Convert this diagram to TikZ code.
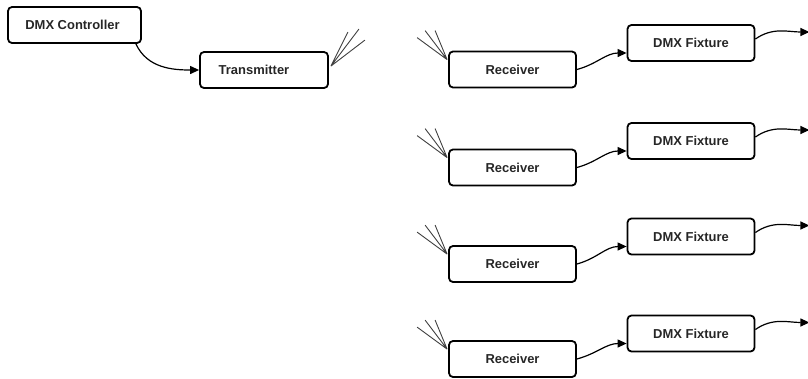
\documentclass[tikz,border=0pt]{standalone}
\usepackage{fontspec}
\setmainfont{Liberation Sans}
\usetikzlibrary{calc,arrows.meta}
\tikzset{
  box/.style={draw=black, line width=1.8pt, rounded corners=4bp, fill=white,
    minimum height=36bp, inner sep=0pt, font=\bfseries\fontsize{13}{15}\selectfont, text=black!85},
  conn/.style={line width=1.2pt, -{Triangle[length=9bp,width=8bp]}},
  ant/.style={line width=0.9pt, black!75}
}
\begin{document}
\begin{tikzpicture}[x=1bp,y=-1bp]
\useasboundingbox (0,0) rectangle (808,378);
\node[box, minimum width=133bp] (ctrl) at (74.5,25) {DMX Controller\kern4bp\relax};
\node[box, minimum width=128bp] (tx) at (264,70) {Transmitter\kern20bp\relax};
\draw[conn] ($(ctrl.south east)+(-6,0)$) to[out=-65,in=180] (tx.west);
\coordinate (txb) at ($(tx.north east)+(2,15)$);
\coordinate (ta1) at ($(txb)+(17,-34)$);
\coordinate (ta2) at ($(txb)+(28,-37)$);
\coordinate (ta3) at ($(txb)+(34,-26)$);
\draw[ant] (txb) -- (ta1) (txb) -- (ta2) (txb) -- (ta3);
\foreach \i/\ry/\fy in {1/69.5/43, 2/167.5/141, 3/264/236.5, 4/359/333.5}{
  \node[box, minimum width=127bp] (rx\i) at (512.5,\ry) {Receiver};
  \node[box, minimum width=127bp] (fx\i) at (691,\fy) {DMX Fixture};
  \draw[conn] (rx\i.east) to[out=15,in=180] ($(fx\i.west)+(0,10)$);
  \coordinate (out\i) at ($(fx\i.east)+(54,-11)$);
  \draw[conn] ($(fx\i.east)+(0,-4)$) to[out=35,in=180] (out\i);
  \coordinate (rb\i) at ($(rx\i.north west)+(-1,9)$);
  \coordinate (ra\i) at ($(rb\i)+(-30,-22)$);
  \coordinate (rc\i) at ($(rb\i)+(-22,-29)$);
  \coordinate (rd\i) at ($(rb\i)+(-12,-29)$);
  \draw[ant] (rb\i) -- (ra\i) (rb\i) -- (rc\i) (rb\i) -- (rd\i);
}
\end{tikzpicture}
\end{document}
